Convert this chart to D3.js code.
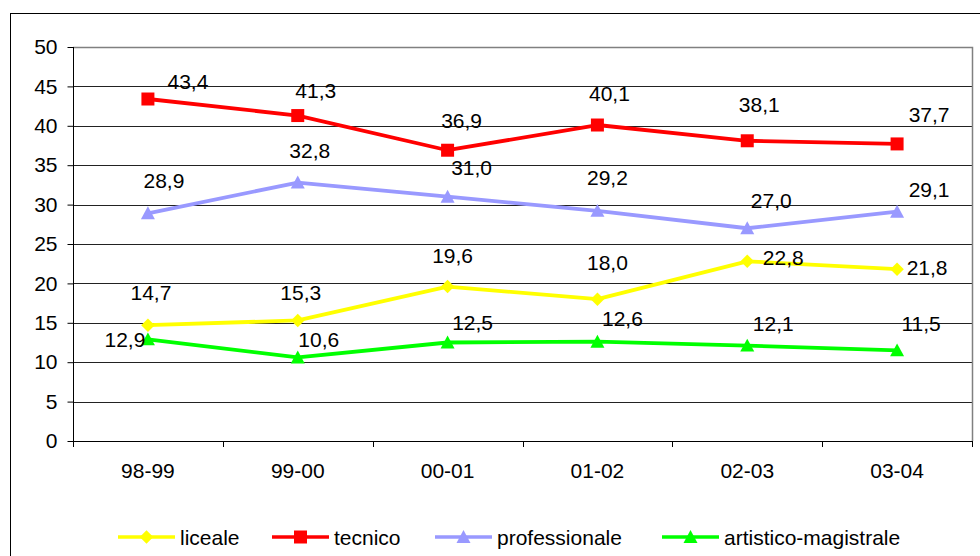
<!DOCTYPE html>
<html><head><meta charset="utf-8">
<script src="https://cdn.jsdelivr.net/npm/d3@7"></script>
<style>
html,body{margin:0;padding:0;background:#fff;}
text{font-family:"Liberation Sans",Arial,sans-serif;fill:#000;}
</style></head>
<body><svg id="c" width="980" height="556"></svg>
<script>
const categories = ["98-99","99-00","00-01","01-02","02-03","03-04"];
const seriesNames = ["liceale","tecnico","professionale","artistico-magistrale"];
const liceale = [14.7,15.3,19.6,18.0,22.8,21.8];
const tecnico = [43.4,41.3,36.9,40.1,38.1,37.7];
const professionale = [28.9,32.8,31.0,29.2,27.0,29.1];
const artistico = [12.9,10.6,12.5,12.6,12.1,11.5];
const yTicks = [0,5,10,15,20,25,30,35,40,45,50];

// label placement offsets (pixels, relative to point)
const labelOffsets = {
  liceale: [[3,-33],[3,-28],[5,-31],[10,-37],[36,-4],[30,-2]],
  tecnico: [[40,-18],[18,-25],[14,-30],[12,-32],[12,-36],[32,-29]],
  professionale: [[16,-33],[12,-32],[24,-29],[10,-33],[24,-28],[32,-22]],
  artistico: [[-23,0],[21,-18],[25,-20],[25,-23],[26,-22],[24,-27]]
};

const series = [
  {name:seriesNames[0], key:"liceale", values:liceale, color:"#FFFF00", marker:"diamond"},
  {name:seriesNames[1], key:"tecnico", values:tecnico, color:"#FF0000", marker:"square"},
  {name:seriesNames[2], key:"professionale", values:professionale, color:"#9999FF", marker:"triangle"},
  {name:seriesNames[3], key:"artistico", values:artistico, color:"#00FF00", marker:"triangle"}
];

const svg = d3.select("#c");
const L=73, R=972, T=47, B=441;
const x = d3.scaleBand().domain(categories).range([L,R]);
const y = d3.scaleLinear().domain([0,50]).range([B,T]);
const cx = c => x(c) + x.bandwidth()/2;

// outer frame
svg.append("rect").attr("x",10.5).attr("y",13.5).attr("width",980).attr("height",560)
  .attr("fill","none").attr("stroke","#000").attr("stroke-width",1);

// gridlines
svg.append("g").selectAll("line").data(yTicks.filter(d=>d>0 && d<50)).join("line")
  .attr("x1",L).attr("x2",R).attr("y1",d=>Math.round(y(d))+0.5).attr("y2",d=>Math.round(y(d))+0.5)
  .attr("stroke","#222").attr("stroke-width",1);
// plot border top/right
svg.append("path").attr("d",`M${L},${T+0.5}H${R+0.5}V${B}`).attr("fill","none")
  .attr("stroke","#808080").attr("stroke-width",1.5);

// y axis
const yAxis = d3.axisLeft(y).tickValues(yTicks).tickSize(6).tickPadding(10);
const gy = svg.append("g").attr("transform",`translate(${L+0.5},0)`).call(yAxis);
gy.select(".domain").attr("stroke","#000").attr("d",`M0,${T}V${B}`);
gy.selectAll(".tick line").attr("stroke","#000");
gy.selectAll("text").attr("font-size",21).style("font-family","Liberation Sans, Arial, sans-serif").attr("fill","#000");

// x axis
const xAxis = d3.axisBottom(x).tickSize(0).tickPadding(22);
const gx = svg.append("g").attr("transform",`translate(0,${B+0.5})`).call(xAxis);
gx.select(".domain").attr("stroke","#000").attr("d",`M${L},0H${R}`);
gx.selectAll("text").attr("font-size",21).style("font-family","Liberation Sans, Arial, sans-serif").attr("fill","#000");
// boundary ticks
const bounds = categories.map(c=>x(c)).concat([R]);
svg.append("g").selectAll("line").data(bounds).join("line")
  .attr("x1",d=>Math.round(d)+0.5).attr("x2",d=>Math.round(d)+0.5)
  .attr("y1",B).attr("y2",B+6).attr("stroke","#000");

function markerPath(type, size){
  if(type==="square") return d3.symbol(d3.symbolSquare, size*size)();
  if(type==="diamond") { const s=size/2; return `M0,${-s}L${s},0L0,${s}L${-s},0Z`; }
  const w=size/2, h=size*0.85; return `M0,${-h/2-1}L${w},${h/2}L${-w},${h/2}Z`;
}
const mSize = m => m==="square"?13:(m==="diamond"?13.5:14);

const line = d3.line().x((d,i)=>cx(categories[i])).y(d=>y(d));
series.forEach(s=>{
  const g = svg.append("g");
  g.append("path").attr("d",line(s.values)).attr("fill","none")
    .attr("stroke",s.color).attr("stroke-width",3.8).attr("stroke-linejoin","round");
  g.selectAll("path.m").data(s.values).join("path").attr("class","m")
    .attr("transform",(d,i)=>`translate(${cx(categories[i])},${y(d)})`)
    .attr("d",markerPath(s.marker, mSize(s.marker)))
    .attr("fill",s.color);
});
// data labels
series.forEach(s=>{
  svg.append("g").selectAll("text").data(s.values).join("text")
    .attr("x",(d,i)=>cx(categories[i])+labelOffsets[s.key][i][0])
    .attr("y",(d,i)=>y(d)+labelOffsets[s.key][i][1])
    .attr("dy","0.36em").attr("text-anchor","middle").attr("font-size",21)
    .text(d=>d3.format(".1f")(d).replace(".",","));
});

// legend
const legX = [118,272,435,662];
const lg = svg.append("g");
series.forEach((s,i)=>{
  const g = lg.append("g").attr("transform",`translate(${legX[i]},537)`);
  g.append("line").attr("x1",0).attr("x2",57).attr("y1",0).attr("y2",0)
    .attr("stroke",s.color).attr("stroke-width",3.5);
  g.append("path").attr("transform","translate(28.5,0)")
    .attr("d",markerPath(s.marker, mSize(s.marker)))
    .attr("fill",s.color);
  g.append("text").attr("x",62).attr("y",0).attr("dy","0.36em").attr("font-size",21).text(s.name);
});
</script></body></html>
